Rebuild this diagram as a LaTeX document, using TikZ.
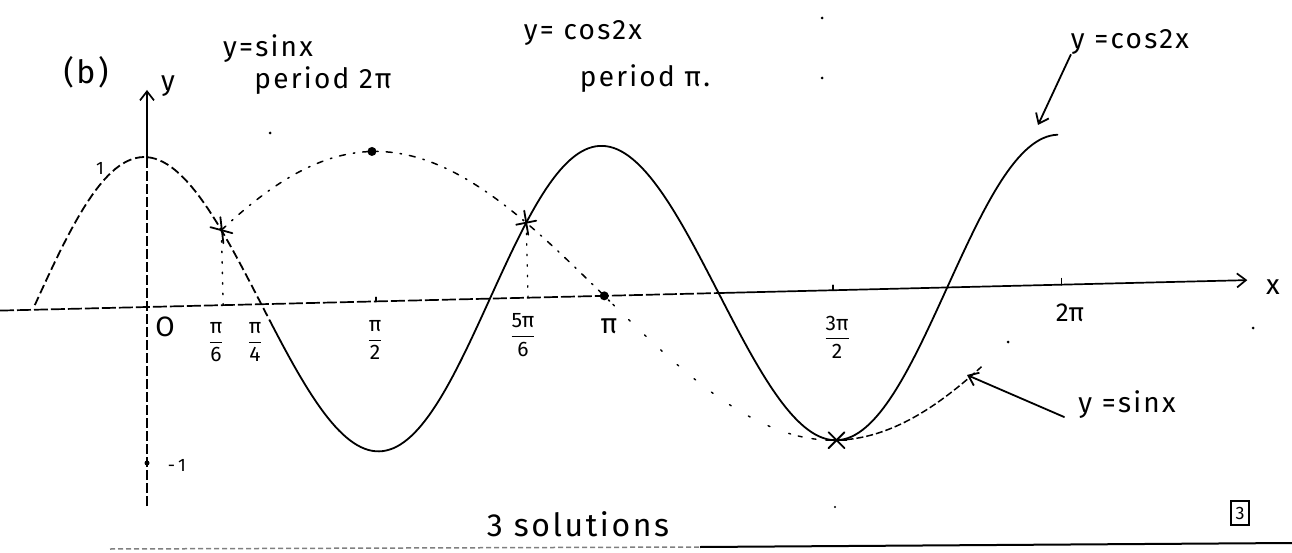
\documentclass[tikz,border=0pt]{standalone}
\usepackage{fontspec}
\setmainfont{Fira Sans}
\usepackage{amsmath}
\usetikzlibrary{arrows.meta,calc}
\newfontfamily\hand[LetterSpace=8]{Fira Sans}
\newcommand{\pfrac}[2]{$\dfrac{\text{#1}}{\text{#2}}$}
\begin{document}
\begin{tikzpicture}[x=1pt,y=1pt,
  ink/.style={line width=1.8pt, black, line cap=round},
  cosdash/.style={ink, line cap=butt, dash pattern=on 9pt off 4pt},
  sinA/.style={line width=1.5pt, dash pattern=on 6pt off 8pt on 1.5pt off 8pt, line cap=round},
  sinB/.style={line width=1.4pt, dash pattern=on 2pt off 20pt, line cap=round},
  sinC/.style={line width=1.5pt, dash pattern=on 7pt off 3pt},
  guide/.style={line width=1.4pt, dash pattern=on 1.5pt off 9pt, line cap=round},
  axisdash/.style={line width=1.7pt, dash pattern=on 14pt off 3pt},
  yaxdash/.style={line width=1.6pt, dash pattern=on 10pt off 3pt},
  lbl/.style={font=\hand\fontsize{28}{30}\selectfont, inner sep=0pt},
  ticklbl/.style={font=\fontsize{21}{23}\selectfont, inner sep=0pt},
  barb/.style={-{Straight Barb[length=9pt,width=14pt]}},
  speck/.style={fill=black},
]
\useasboundingbox (0,0) rectangle (1292,552);
\fill[white] (0,0) rectangle (1292,552);

% ---------- axes and curves (rotated graph frame) ----------
\begin{scope}[shift={(147pt,245pt)}, rotate=1.4, x=145.6pt, y=150pt]
  \coordinate (xl) at (-1.01,0);
  \coordinate (xm) at (3.93,0);
  \coordinate (xr) at (7.56,0);
  \draw[axisdash] (xl) -- (xm);
  \draw[ink, line width=1.7pt, barb] (xm) -- (xr);

  % y = cos 2x
  \draw[cosdash] plot[domain=-0.77:0.85, samples=60] (\x,{cos(deg(2*\x))});
  \draw[ink] plot[domain=0.85:6.2832, samples=220] (\x,{cos(deg(2*\x))});

  % y = sin x
  \draw[sinA] plot[domain=0.5236:3.2, samples=90] (\x,{sin(deg(\x))});
  \draw[sinB] plot[domain=3.2:4.45, samples=40] (\x,{sin(deg(\x))});
  \draw[sinB, dash pattern=on 4pt off 10pt] plot[domain=4.45:4.71, samples=12] (\x,{sin(deg(\x))});
  \draw[sinC] plot[domain=4.7124:5.72, samples=40] (\x,{sin(deg(\x))});

  \coordinate (P1) at ({pi/6},0.5);
  \coordinate (P2) at ({5*pi/6},0.5);
  \coordinate (P3) at ({3*pi/2},-1);
  \coordinate (F1) at ({pi/6},0);
  \coordinate (F2) at ({5*pi/6},0);
  \coordinate (S1) at ({pi/2},1);
  \coordinate (T2) at ({pi/2},0);
  \coordinate (T3) at ({pi},0);
  \coordinate (T4) at ({3*pi/2},0);
  \coordinate (T5) at ({2*pi},0);
\end{scope}

% y-axis
\coordinate (yb) at (147,46);
\coordinate (ypk) at (147,394);
\coordinate (yt) at (147,462);
\draw[yaxdash] (yb) -- (ypk);
\draw[ink, line width=1.7pt, barb] (ypk) -- (yt);

% guides from intersections
\draw[guide] (P1) -- (F1);
\draw[guide] (P2) -- (F2);

% intersection marks
\draw[ink] ($(P1)+(-1,13)$) -- ($(P1)+(2,-13)$);
\draw[ink] ($(P1)+(-11,3)$) -- ($(P1)+(11,-3)$);
\draw[ink] ($(P2)+(-2,12)$) -- ($(P2)+(2,-12)$);
\draw[ink] ($(P2)+(-10,-2)$) -- ($(P2)+(10,2)$);
\draw[ink] ($(P3)+(-8,-8)$) -- ($(P3)+(8,8)$);
\draw[ink] ($(P3)+(-8,8)$) -- ($(P3)+(8,-8)$);
\draw[ink] ($(P3)+(-10,0)$) -- ($(P3)+(10,0)$);

% dots and ticks
\fill (S1) circle[radius=4.5pt];
\fill (T3) circle[radius=4.5pt];
\draw[ink] (T2) -- ++(0,4);
\draw[ink] (T4) -- ++(0,5);
\draw[ink] (T5) -- ++(0,6);
\fill (147,89) circle[radius=2.5pt];

% axis labels
\node[lbl] (ylab) at (168,466) {y};
\node[lbl] (xlab) at (1273,265) {x};
\node[ticklbl, font=\fontsize{18}{20}\selectfont] (one) at (100,384) {1};
\node[ticklbl, font=\fontsize{18}{20}\selectfont] (mone) at (177,87) {-\,1};
\node[ticklbl, font=\fontsize{28}{30}\selectfont] (orig) at (165,225) {O};
\node[ticklbl] (l6) at (216,210) {\pfrac{π}{6}};
\node[ticklbl] (l4) at (255,210) {\pfrac{π}{4}};
\node[ticklbl] (l2) at (375,212) {\pfrac{π}{2}};
\node[ticklbl] (l56) at (523,217) {\pfrac{5π}{6}};
\node[ticklbl, font=\fontsize{28}{30}\selectfont] (lpi) at (609,226) {π};
\node[ticklbl] (l32) at (837,215) {\pfrac{3π}{2}};
\node[ticklbl, font=\fontsize{26}{28}\selectfont] (l2pi) at (1070,239) {2π};

% titles
\node[lbl, font=\hand\fontsize{32}{34}\selectfont] (b) at (86,480) {(b)};
\node[lbl] (t1) at (268,503) {y=sinx};
\node[lbl] (t2) at (323,471) {period 2π};
\node[lbl] (t3) at (583,519) {y= cos2x};
\node[lbl] (t4) at (645,473) {period π.};

% curve labels with arrows
\node[lbl] (lcos) at (1130,510) {y =cos2x};
\coordinate (acos) at (1038,427);
\draw[ink, barb] (lcos.south west) -- (acos);
\node[lbl] (lsin) at (1127,147) {y =sinx};
\coordinate (asin) at (967,177);
\draw[ink, barb] ($(lsin.west)+(-14,-12)$) -- (asin);

% bottom
\node[lbl, font=\hand\fontsize{32}{34}\selectfont] (sol) at (578,28) {3 solutions};
\node[ticklbl, draw, line width=1.2pt, minimum width=18pt, minimum height=24pt, font=\fontsize{18}{20}\selectfont] (mk) at (1240,39) {3};
\draw[gray, line width=1.5pt, dash pattern=on 5pt off 3pt] (110,3) -- (700,5);
\draw[black, line width=2pt] (700,5) -- (1292,9);

% specks
\fill[speck] (822,534) circle[radius=1.5pt];
\fill[speck] (822,474) circle[radius=1.5pt];
\fill[speck] (270,419) circle[radius=1.5pt];
\fill[speck] (1008,210) circle[radius=1.5pt];
\fill[speck] (1253,224) circle[radius=1.5pt];
\fill[speck] (835,45) circle[radius=1.2pt];
\end{tikzpicture}
\end{document}
